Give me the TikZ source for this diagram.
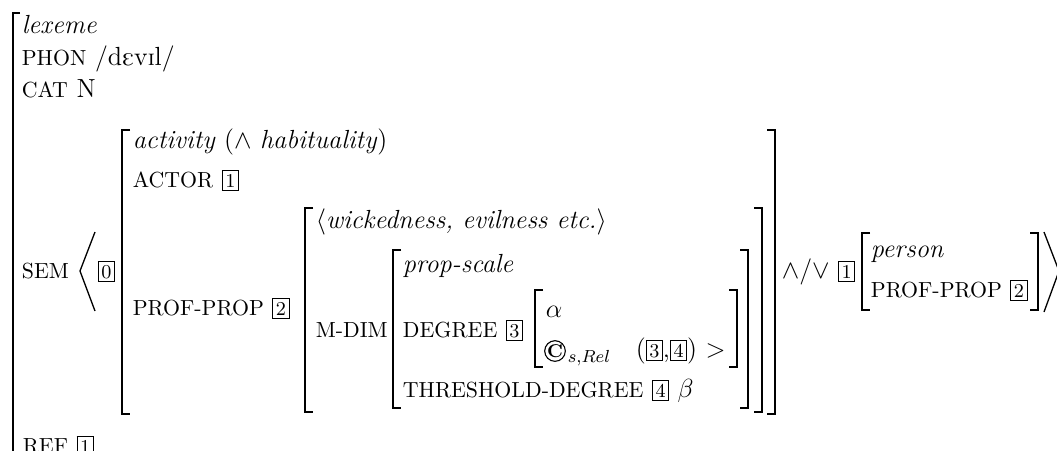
\documentclass[tikz,border=0pt]{standalone}
\usepackage{tipa}
\newcommand{\tagbox}[1]{{\setlength{\fboxsep}{1.2pt}\fbox{\small #1}}}
\newcommand{\feat}[1]{{\fontsize{10}{12}\selectfont #1}}
\tikzset{avm/.style={anchor=base west,inner sep=0pt,font=\fontsize{12}{14}\selectfont}}

\begin{document}
\begin{tikzpicture}[x=0.458pt,y=-0.458pt,line width=0.8pt]
\useasboundingbox (0,0) rectangle (1057,450);
\foreach \l/\r/\t/\b in {122/775/130/414,305/762/208/412,393/748/250/408,535/737/290/367,862/1038/233/310} {
  \draw (\l+8,\t) -- (\l,\t) -- (\l,\b) -- (\l+8,\b);
  \draw (\r-8,\t) -- (\r,\t) -- (\r,\b) -- (\r-8,\b);
}
\draw (20,13) -- (13,13) -- (13,470);
\draw[line width=0.6pt] (95,232) -- (80,271) -- (95,311);
\draw[line width=0.6pt] (1044,232) -- (1059,271) -- (1044,312);
\node[avm] (lex) at (21,33) {\textit{lexeme}};
\node[avm] (phon) at (21,65) {\feat{PHON} \textipa{/dEvIl/}};
\node[avm] (cat) at (21,97) {\feat{CAT} N};
\node[avm] (sem) at (21,278) {\feat{SEM}};
\node[avm] (tag0) at (97,278) {\tagbox{0}};
\node[avm] (ref) at (22,453) {\feat{REF} \tagbox{1}};
\node[avm] (act) at (132,148) {\textit{activity} ($\wedge$ \textit{habituality})};
\node[avm] (actor) at (132,187) {\feat{ACTOR} \tagbox{1}};
\node[avm] (pp) at (132,315) {\feat{PROF-PROP} \tagbox{2}};
\node[avm] (wick) at (315,228) {$\langle$\textit{wickedness, evilness etc.}$\rangle$};
\node[avm] (mdim) at (315,337) {\feat{M-DIM}};
\node[avm] (scale) at (402,272) {\textit{prop-scale}};
\node[avm] (deg) at (402,337) {\feat{DEGREE} \tagbox{3}};
\node[avm] (alpha) at (545,317) {$\alpha$};
\node[draw,circle,line width=0.5pt,inner sep=0pt,font=\fontsize{8.5}{10}\selectfont\bfseries] (circ) at (555,351) {C};
\node[avm] (sub) at (567,362) {$\scriptstyle s,Rel$};
\node[avm] (args) at (635,357) {(\tagbox{3},\tagbox{4}) $>$};
\node[avm] (thr) at (402,397) {\feat{THRESHOLD-DEGREE} \tagbox{4} $\beta$};
\node[avm] (andor) at (781,278) {$\wedge/\vee$ \tagbox{1}};
\node[avm] (pers) at (870,257) {\textit{person}};
\node[avm] (pp2) at (870,297) {\feat{PROF-PROP} \tagbox{2}};
\end{tikzpicture}
\end{document}
